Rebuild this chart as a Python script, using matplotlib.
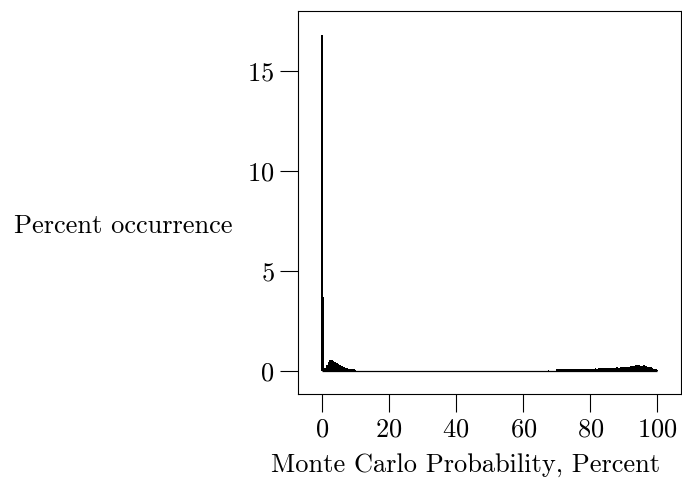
import matplotlib
matplotlib.use("Agg")
import matplotlib.pyplot as plt

plt.rcParams["font.family"] = "serif"
plt.rcParams["font.serif"] = ["cmr10", "DejaVu Serif"]
plt.rcParams["axes.formatter.use_mathtext"] = True

# histogram of Monte Carlo probabilities, bin width 0.5 percent
bin_width = 0.5
bin_centers = [i * 0.5 for i in range(201)]

heights_0_10 = [16.8, 3.7, 0.15, 0.3, 0.45, 0.55, 0.55, 0.5, 0.45, 0.4,
                0.35, 0.3, 0.25, 0.2, 0.15, 0.15, 0.1, 0.1, 0.1, 0.1]
heights_10_66 = [0.05, 0.02] + [0.0] * 110
heights_66_70 = [0.0, 0.0, 0.0, 0.05, 0.0, 0.0, 0.0, 0.0]
heights_70_80 = [0.08, 0.08, 0.08, 0.08, 0.09, 0.09, 0.09, 0.09, 0.09, 0.09,
                 0.1, 0.1, 0.1, 0.1, 0.1, 0.1, 0.1, 0.1, 0.1, 0.1]
heights_80_90 = [0.1, 0.1, 0.12, 0.15, 0.12, 0.13, 0.15, 0.13, 0.15, 0.15,
                 0.16, 0.16, 0.15, 0.16, 0.17, 0.17, 0.18, 0.17, 0.18, 0.18]
heights_90_100 = [0.18, 0.2, 0.2, 0.22, 0.27, 0.27, 0.27, 0.28, 0.28, 0.28,
                  0.27, 0.27, 0.28, 0.27, 0.22, 0.2, 0.18, 0.15, 0.12, 0.08,
                  0.03]
heights = heights_0_10 + heights_10_66 + heights_66_70 + heights_70_80 + heights_80_90 + heights_90_100

x_ticks = [0, 20, 40, 60, 80, 100]
y_ticks = [0, 5, 10, 15]

fig = plt.figure(figsize=(6.82, 4.79), dpi=100)
ax = fig.add_axes([0.437, 0.1775, 0.562, 0.8])

ax.bar(bin_centers[:len(heights)], heights, width=bin_width, align="center",
       color="black", linewidth=0)
# baseline of the histogram
ax.hlines(0, bin_centers[0], bin_centers[len(heights) - 1], color="black", linewidth=0.9)

ax.set_xlim(-7.1, 107.1)
ax.set_ylim(-1.15, 18.0)
ax.set_xticks(x_ticks)
ax.set_yticks(y_ticks)
ax.tick_params(direction="out", length=13, width=0.8, labelsize=19, pad=4, colors="black")
for s in ax.spines.values():
    s.set_linewidth(0.8)

ax.set_xlabel("Monte Carlo Probability, Percent", fontsize=19)
ax.xaxis.set_label_coords(0.436, -0.185)
ax.xaxis.label.set_va("center")
ax.set_ylabel("Percent occurrence", fontsize=19, rotation=0, ha="right", va="center")
ax.yaxis.set_label_coords(-0.172, 0.4386)

fig.savefig("out.png", dpi=100)
